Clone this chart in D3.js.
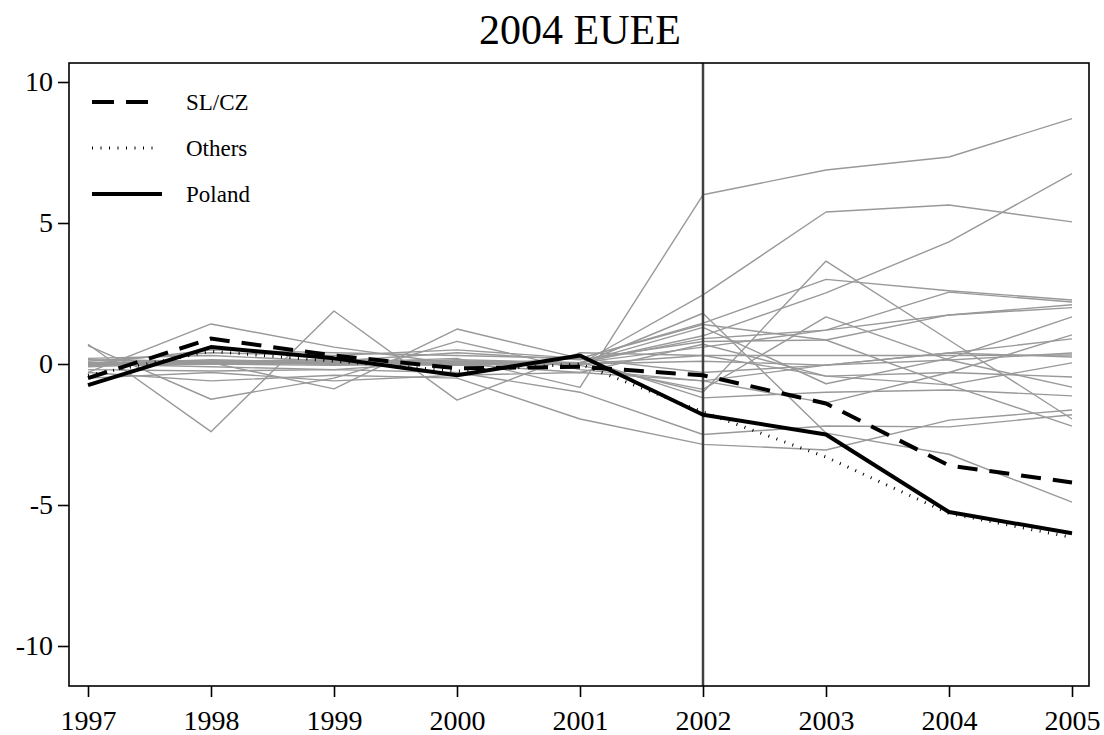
<!DOCTYPE html>
<html>
<head>
<meta charset="utf-8">
<script src="https://cdn.jsdelivr.net/npm/d3@7"></script>
<style>
  html, body { margin: 0; padding: 0; background: #fff; }
  svg text { font-family: "Liberation Serif", "Times New Roman", serif; }
</style>
</head>
<body>
<svg id="chart"></svg>
<script>
// ── Data ──────────────────────────────────────────────────────────────────
const years = [1997, 1998, 1999, 2000, 2001, 2002, 2003, 2004, 2005];
const yTicks = [-10, -5, 0, 5, 10];
const treatYear = 2002;

const slcz   = [-0.5, 0.9, 0.3, -0.15, -0.1, -0.4, -1.4, -3.6, -4.2];
const others = [-0.4, 0.45, 0.1, -0.25, 0.0, -1.7, -3.3, -5.3, -6.15];
const poland = [-0.75, 0.6, 0.2, -0.4, 0.3, -1.8, -2.5, -5.25, -6.0];

// individual countries (grey)
const grey = [
  [0.05, 0.1, 0.05, 0.2, -0.83, 6.0, 6.88, 7.34, 8.7],
  [0.0, 0.05, 0.0, 0.05, 0.0, 2.45, 5.39, 5.64, 5.04],
  [0.05, 0.0, -0.05, 0.0, 0.05, 1.0, 2.52, 4.33, 6.75],
  [-0.05, 0.1, 0.05, -0.05, 0.05, -1.0, 3.65, 0.85, -1.95],
  [0.1, 0.4, 0.3, 0.5, 0.2, 1.45, 3.0, 2.6, 2.27],
  [0.0, -0.1, -0.2, 0.1, -0.05, -0.9, 1.67, 0.14, -0.82],
  [-0.1, 0.05, 0.0, 0.15, 0.05, 0.6, 1.2, 2.55, 2.2],
  [0.2, 0.3, 0.1, 0.4, 0.15, 0.8, 0.85, 1.74, 2.0],
  [0.05, 0.1, 0.15, 0.1, 0.05, 1.3, -0.7, 0.2, 1.67],
  [0.7, -2.4, 1.88, -1.28, 0.4, 0.3, -0.43, -0.74, 0.04],
  [0.65, -1.25, -0.5, 0.8, -0.2, -0.6, -0.04, 0.39, 0.89],
  [-0.3, 1.42, 0.6, 0.0, -0.3, 0.7, -0.43, -0.3, 1.03],
  [0.0, 0.05, -0.88, 1.24, 0.2, -0.3, -0.04, 0.14, 0.39],
  [-0.3, -0.6, -0.4, -0.5, -1.95, -2.85, -3.05, -1.99, -1.63],
  [0.0, 0.1, 0.0, 0.05, 0.0, 1.8, -2.45, -3.2, -4.9],
  [0.0, 0.15, 0.05, 0.0, 0.05, 0.9, 1.2, 1.74, 2.1],
  [-0.05, 0.0, 0.1, 0.05, 0.0, 0.3, 0.3, 0.3, 0.32],
  [0.05, 0.0, 0.05, 0.0, 0.0, 0.1, -0.04, 0.39, 0.25],
  [-0.5, -0.3, -0.6, -0.4, -0.3, -0.6, -1.38, -0.3, -0.46],
  [0.0, 0.5, 0.4, 0.3, 0.2, -1.2, -1.0, -0.92, -1.13],
  [-0.2, -0.25, -0.2, -0.3, -1.0, -2.5, -2.2, -2.23, -1.8],
  [0.15, 0.1, 0.0, -0.05, 0.2, 1.4, 0.85, -0.74, -2.2]
];

const legendItems = [
  { label: "SL/CZ",  dash: "22,12", width: 4,   len: 58 },
  { label: "Others", dash: "1,7.5", width: 3,   len: 67 },
  { label: "Poland", dash: null,    width: 4,   len: 70 }
];

// ── Layout ────────────────────────────────────────────────────────────────
const W = 1104, H = 735;
const frame = { left: 69, right: 1089, top: 63, bottom: 686 };

const svg = d3.select("#chart")
    .attr("width", W)
    .attr("height", H);

const x = d3.scaleLinear().domain([1997, 2005]).range([88, 1072]);
const y = d3.scaleLinear().domain([-10, 10]).range([646, 82]);

const line = d3.line()
    .x((d, i) => x(years[i]))
    .y(d => y(d));

// ── Grey country lines ────────────────────────────────────────────────────
svg.append("g")
    .selectAll("path")
    .data(grey)
    .join("path")
    .attr("fill", "none")
    .attr("stroke", "#999")
    .attr("stroke-width", 1.4)
    .attr("stroke-linejoin", "round")
    .attr("d", line);

// ── Treatment year line ───────────────────────────────────────────────────
svg.append("line")
    .attr("x1", x(treatYear)).attr("x2", x(treatYear))
    .attr("y1", frame.top).attr("y2", frame.bottom)
    .attr("stroke", "#404040")
    .attr("stroke-width", 2.5);

// ── Highlighted series ────────────────────────────────────────────────────
svg.append("path")
    .datum(others)
    .attr("fill", "none")
    .attr("stroke", "#000")
    .attr("stroke-width", 3)
    .attr("stroke-dasharray", "1,7.5")
    .attr("d", line);

svg.append("path")
    .datum(slcz)
    .attr("fill", "none")
    .attr("stroke", "#000")
    .attr("stroke-width", 4)
    .attr("stroke-dasharray", "20,12")
    .attr("d", line);

svg.append("path")
    .datum(poland)
    .attr("fill", "none")
    .attr("stroke", "#000")
    .attr("stroke-width", 4)
    .attr("stroke-linejoin", "round")
    .attr("d", line);

// ── Frame ─────────────────────────────────────────────────────────────────
svg.append("rect")
    .attr("x", frame.left).attr("y", frame.top)
    .attr("width", frame.right - frame.left)
    .attr("height", frame.bottom - frame.top)
    .attr("fill", "none")
    .attr("stroke", "#000")
    .attr("stroke-width", 1.6);

// ── Axes ──────────────────────────────────────────────────────────────────
svg.append("g")
    .attr("transform", `translate(0,${frame.bottom})`)
    .call(d3.axisBottom(x).tickValues(years).tickFormat(d => String(d)).tickSize(11).tickPadding(13))
    .call(g => g.select(".domain").remove())
    .call(g => g.selectAll("line").attr("stroke", "#000").attr("stroke-width", 1.6))
    .call(g => g.selectAll("text")
        .attr("font-size", 28)
        .attr("fill", "#000")
        .attr("font-family", "Liberation Serif, serif"));

svg.append("g")
    .attr("transform", `translate(${frame.left},0)`)
    .call(d3.axisLeft(y).tickValues(yTicks).tickFormat(d => String(d)).tickSize(11).tickPadding(5))
    .call(g => g.select(".domain").remove())
    .call(g => g.selectAll("line").attr("stroke", "#000").attr("stroke-width", 1.6))
    .call(g => g.selectAll("text")
        .attr("font-size", 28)
        .attr("fill", "#000")
        .attr("font-family", "Liberation Serif, serif"));

// ── Title ─────────────────────────────────────────────────────────────────
svg.append("text")
    .attr("x", 580).attr("y", 44)
    .attr("text-anchor", "middle")
    .attr("font-size", 42)
    .attr("fill", "#000")
    .text("2004 EUEE");

// ── Legend ────────────────────────────────────────────────────────────────
const legend = svg.append("g").attr("transform", "translate(92,102)");

legendItems.forEach((item, i) => {
    const g = legend.append("g").attr("transform", `translate(0,${i * 46})`);
    g.append("line")
        .attr("x1", 0).attr("x2", item.len)
        .attr("y1", 0).attr("y2", 0)
        .attr("stroke", "#000")
        .attr("stroke-width", item.width)
        .attr("stroke-dasharray", item.dash);
    g.append("text")
        .attr("x", 94).attr("y", 8)
        .attr("font-size", 23)
        .attr("fill", "#000")
        .text(item.label);
});
</script>
</body>
</html>
